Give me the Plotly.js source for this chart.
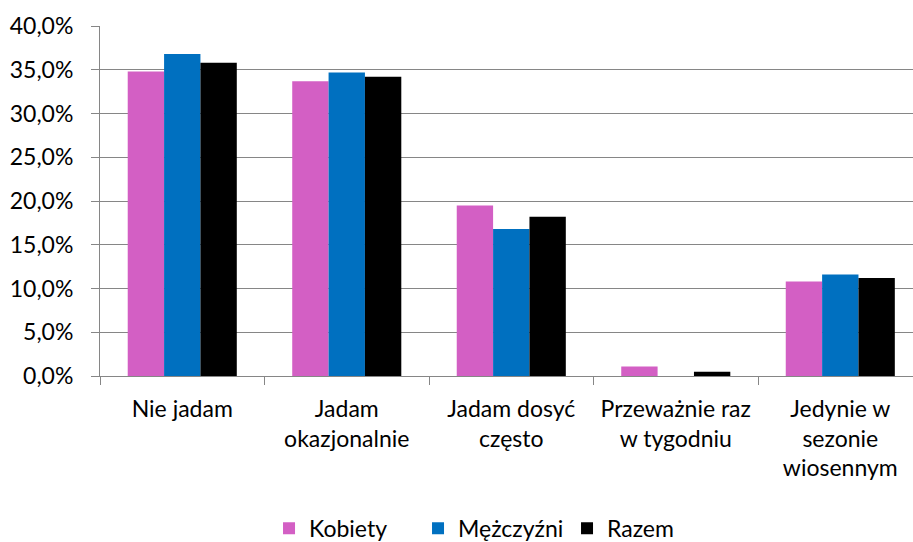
<!DOCTYPE html>
<html><head><meta charset="utf-8">
<script src="https://cdn.plot.ly/plotly-3.0.1.min.js"></script>
<style>body{margin:0;background:#fff}#c{width:913px;height:542px}</style>
</head><body><div id="c"></div>
<script>
var categories = ["Nie jadam", "Jadam<br>okazjonalnie", "Jadam dosyć<br>często", "Przeważnie raz<br>w tygodniu", "Jedynie w<br>sezonie<br>wiosennym"];
var kobiety = [0.348, 0.337, 0.195, 0.011, 0.108];
var mezczyzni = [0.368, 0.347, 0.168, 0.0, 0.116];
var razem = [0.358, 0.342, 0.182, 0.005, 0.112];
var seriesNames = ["Kobiety", "Mężczyźni", "Razem"];
var colors = ["#D35FC4", "#0070C0", "#000000"];
var yTicks = [0, 0.05, 0.10, 0.15, 0.20, 0.25, 0.30, 0.35, 0.40];

var font = "Lato, 'Open Sans', sans-serif";
var data = [kobiety, mezczyzni, razem].map(function(v, i){
  return {type:"bar", x:categories, y:v, name:seriesNames[i], marker:{color:colors[i]}};
});
var layout = {
  width:913, height:542,
  margin:{l:100, r:0, t:26, b:166, autoexpand:false},
  separators:", ",
  barmode:"group", bargap:0.337, bargroupgap:0,
  font:{family:font, size:24, color:"#000"},
  plot_bgcolor:"#fff", paper_bgcolor:"#fff",
  showlegend:true,
  legend:{orientation:"h", x:0.2079, xanchor:"left", y:-0.435, yanchor:"middle",
    font:{size:23}, itemwidth:30, tracegroupgap:0, entrywidth:104, entrywidthmode:"pixels"},
  xaxis:{range:[-0.5, 4.442], showline:true, linecolor:"#868686", linewidth:1,
    ticks:"outside", tickson:"boundaries", ticklen:8, tickcolor:"#868686", tickangle:0,
    showgrid:false, tickfont:{size:23}, ticklabelstandoff:12, fixedrange:true, automargin:false},
  yaxis:{range:[0, 0.4], tickvals:yTicks, tickformat:".1%", showline:true,
    linecolor:"#868686", linewidth:1, ticks:"outside", ticklen:8, tickcolor:"#868686",
    showgrid:true, gridcolor:"#868686", gridwidth:1, zeroline:false,
    tickfont:{size:23}, ticklabelstandoff:13, automargin:false}
};
Plotly.newPlot("c", data, layout, {displayModeBar:false, staticPlot:true});
</script></body></html>
